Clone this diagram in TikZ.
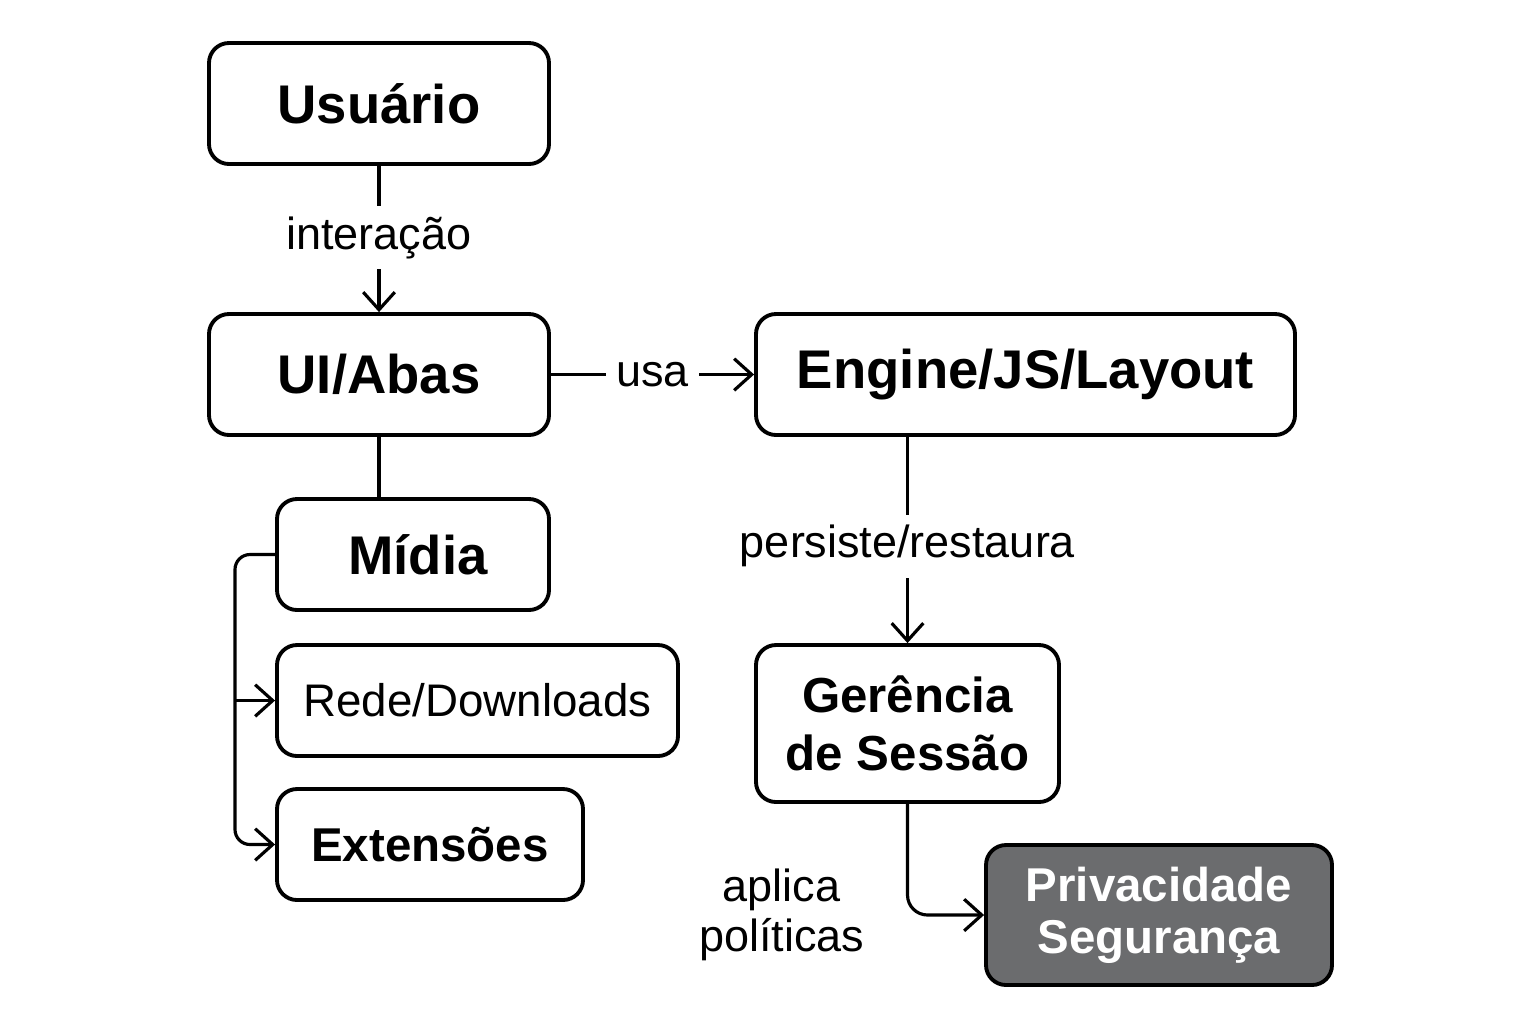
\documentclass[tikz,border=0pt]{standalone}
\usepackage{fontspec}
\setmainfont{Liberation Sans}
\usetikzlibrary{positioning,arrows.meta}

\definecolor{boxgray}{HTML}{6B6C6E}
\tikzset{
  box/.style={draw, line width=1.1pt, rounded corners=0.2cm, fill=white,
    font=\bfseries\fontsize{15.5}{18}\selectfont, align=center},
  smallbox/.style={box, font=\fontsize{13}{16}\selectfont},
  darkbox/.style={box, fill=boxgray, text=white, font=\bfseries\fontsize{13.5}{14.7}\selectfont},
  lbl/.style={fill=white, font=\fontsize{12.8}{15}\selectfont, inner sep=3pt},
  arr/.style={line width=0.9pt, -{Straight Barb[length=5pt,width=9pt]}},
  line/.style={line width=0.9pt}
}

\begin{document}
\begin{tikzpicture}
        \useasboundingbox (0,0) rectangle (15.36,-10.24);

        % Left column
        \node[box, minimum width=3.40cm, minimum height=1.21cm] (usuario) at (3.79,-1.035) {Usuário};
        \node[box, minimum width=3.40cm, minimum height=1.21cm] (ui) at (3.79,-3.745) {UI/Abas};
        \node[box, minimum width=2.72cm, minimum height=1.11cm] (midia) at (4.13,-5.545) {\hspace{0.1cm}Mídia};
        \node[smallbox, minimum width=4.01cm, minimum height=1.11cm] (rede) at (4.775,-7.005) {Rede/Downloads};
        \node[box, minimum width=3.06cm, minimum height=1.11cm, font=\bfseries\fontsize{13.5}{16}\selectfont] (ext) at (4.30,-8.445) {Extensões};

        % Right column
        \node[box, minimum width=5.39cm, minimum height=1.21cm] (engine) at (10.255,-3.745) {Engine/JS/Layout};
        \node[box, minimum width=3.03cm, minimum height=1.57cm, font=\bfseries\fontsize{14}{16.4}\selectfont] (gerencia) at (9.075,-7.235) {Gerência\\de Sessão};
        \node[darkbox, minimum width=3.46cm, minimum height=1.40cm] (priv) at (11.59,-9.15) {Privacidade\\Segurança};

        % Connectors
        \draw[arr] (usuario) -- node[lbl, pos=0.49] {interação} (ui);
        \draw[arr] (ui) -- node[lbl] {usa} (engine);
        \draw[line] (ui.south) -- (ui.south |- midia.north);

        % Branch from Mídia
        \coordinate (fork) at (2.35,-5.545);
        \draw[arr, rounded corners=0.15cm] (midia.west) -- (fork) |- (ext.west);
        \draw[arr] (fork |- rede.west) -- (rede.west);

        \draw[arr] (engine.south -| gerencia.north) -- node[lbl, pos=0.53] {persiste/restaura} (gerencia.north);
        \draw[arr, rounded corners=0.2cm] (gerencia.south) |- node[pos=0.5, left=0.3cm, align=center, font=\fontsize{12.8}{14.3}\selectfont] {aplica\\políticas} (priv.west);
      \end{tikzpicture}
\end{document}
